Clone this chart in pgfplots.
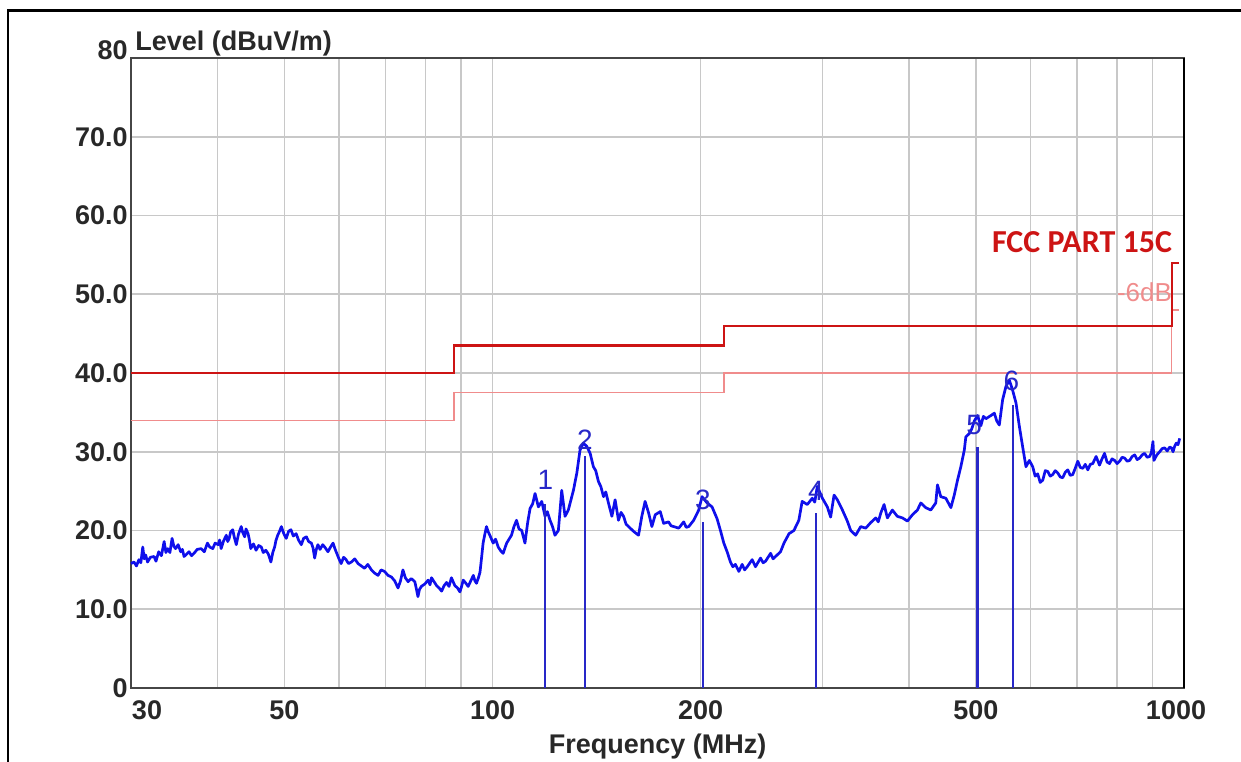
\documentclass[border=0pt]{standalone}
\usepackage{pgfplots}
\pgfplotsset{compat=1.18}
\usepackage{pgfplotstable}
\usepackage{fontspec}
\setmainfont{Liberation Sans}
\newfontfamily\calib{Carlito}
\definecolor{trace}{RGB}{15,15,235}
\definecolor{markblue}{RGB}{40,40,200}
\definecolor{limred}{RGB}{205,20,20}
\definecolor{limpink}{RGB}{240,140,140}
\definecolor{gridgray}{RGB}{200,200,200}
\definecolor{axisgray}{RGB}{70,70,70}
\definecolor{labelcol}{RGB}{40,40,40}

\pgfplotstableread{
f v
30.0 15.8
30.3 16.0
30.55 15.5
30.8 16.3
31.0 15.9
31.2 17.9
31.35 16.4
31.5 16.9
31.7 16.0
32.0 16.6
32.4 16.7
32.6 16.1
32.9 17.3
33.2 16.8
33.5 18.6
33.7 17.2
33.9 17.7
34.15 17.2
34.4 19.0
34.6 18.0
34.8 17.7
35.1 18.2
35.4 17.3
35.6 17.6
35.8 16.7
36.1 17.0
36.4 17.3
36.7 16.8
37.0 17.1
37.4 17.6
37.9 17.7
38.3 17.3
38.7 18.4
39.0 17.9
39.4 17.7
39.7 18.4
40.1 18.2
40.3 18.8
40.5 17.7
40.8 18.6
41.2 19.4
41.4 18.6
41.6 19.0
41.8 19.8
42.1 20.1
42.3 19.2
42.6 18.2
42.9 19.5
43.3 20.5
43.5 19.8
43.8 19.2
44.0 20.2
44.3 19.6
44.5 18.8
44.7 17.7
45.1 18.3
45.5 17.5
45.9 18.1
46.3 17.9
46.6 17.2
47.0 17.5
47.4 17.0
47.8 16.0
48.1 17.2
48.4 17.9
48.6 18.7
48.9 19.4
49.2 19.9
49.5 20.5
49.9 19.6
50.3 19.0
50.7 19.9
51.1 20.1
51.5 19.3
52.0 19.6
52.4 18.8
52.9 18.2
53.3 19.0
53.8 19.2
54.2 18.6
54.7 18.4
55.0 17.8
55.3 16.5
55.6 17.6
55.9 18.2
56.3 17.6
56.8 18.2
57.3 17.8
57.8 17.3
58.3 17.9
58.8 18.4
59.1 17.8
59.4 17.3
59.9 16.5
60.4 15.8
60.9 16.6
61.4 16.3
61.9 15.8
62.5 16.0
63.2 16.4
63.9 15.8
64.6 15.5
65.3 15.2
66.0 15.7
66.8 15.0
67.5 14.6
68.3 14.3
69.0 15.0
69.8 14.8
70.6 14.3
71.4 14.1
72.2 13.6
73.0 12.7
73.6 13.6
74.2 15.0
74.8 14.0
75.5 13.5
76.3 13.9
77.2 13.5
77.6 12.6
78.0 11.6
78.4 12.5
78.9 12.9
79.8 13.2
80.7 13.7
81.2 13.1
81.6 14.0
82.3 13.5
83.0 13.0
83.7 12.7
84.4 12.3
85.1 13.0
85.8 13.4
86.5 12.9
87.2 14.0
87.7 13.5
88.2 13.0
89.0 12.7
89.7 12.2
90.2 12.9
90.7 13.7
91.5 13.3
92.2 12.9
93.0 13.6
93.8 14.3
94.3 13.6
94.8 13.3
95.4 14.0
95.9 14.7
96.4 16.5
96.9 18.4
97.5 19.6
98.0 20.5
98.6 19.8
99.1 19.4
100.2 18.4
101.0 18.9
101.9 17.9
102.8 17.4
103.6 17.1
104.8 18.4
106.5 19.4
107.4 20.5
108.3 21.3
109.2 20.2
110.2 20.0
111.4 18.4
112.4 21.0
113.3 22.8
114.3 23.4
115.2 24.7
116.5 23.0
117.8 23.7
119.1 21.8
120.0 22.4
121.1 21.3
122.1 20.5
123.1 19.4
124.5 20.0
125.9 25.1
127.3 21.8
128.7 22.6
130.9 25.1
132.4 27.3
133.8 30.2
135.3 31.1
136.8 30.7
138.4 29.8
139.9 28.1
141.0 27.6
142.3 26.2
143.4 25.6
144.7 24.3
145.8 24.9
147.1 23.5
148.8 21.8
150.4 23.9
152.1 21.3
153.4 22.3
154.7 21.8
156.0 20.8
157.3 20.5
159.9 19.9
162.6 19.4
164.4 21.8
166.2 23.7
168.2 22.2
170.0 20.5
171.9 22.0
174.8 22.4
176.8 20.9
179.7 21.1
181.2 20.6
182.8 20.5
185.9 20.3
189.0 21.1
190.6 20.4
192.2 20.5
195.4 21.3
198.7 22.6
200.9 24.3
204.3 23.5
207.7 23.0
211.2 21.5
213.6 20.0
216.0 18.4
218.4 17.3
220.8 16.0
222.6 15.4
224.5 15.7
227.1 14.8
229.6 15.7
231.5 15.0
233.5 15.4
237.4 16.3
240.0 15.4
244.1 16.5
246.2 15.9
248.2 16.1
252.4 17.1
254.5 16.4
256.6 16.7
260.9 17.3
263.9 18.4
268.4 19.6
272.8 20.0
277.3 21.3
280.4 23.7
285.2 23.3
290.0 24.1
292.4 23.6
294.9 25.6
299.9 24.1
304.9 23.0
308.3 21.7
311.8 24.5
315.3 23.9
320.6 22.6
325.9 21.2
329.6 20.0
335.1 19.4
340.8 20.5
346.5 20.3
352.3 21.0
358.3 21.6
361.3 21.1
364.3 22.2
368.4 23.3
372.4 21.6
378.7 22.6
385.0 21.8
391.6 21.6
398.1 21.2
404.8 22.0
411.6 22.6
416.2 23.5
423.2 22.9
430.3 22.6
437.5 23.5
440.0 25.8
444.9 24.3
452.4 24.1
460.1 22.9
465.3 24.5
470.4 26.4
475.6 28.1
481.1 30.2
483.6 31.9
489.1 32.3
493.2 32.9
497.4 33.9
502.8 34.6
508.4 33.3
512.7 34.5
517.0 34.2
525.7 34.6
531.7 34.9
536.1 33.9
540.6 33.4
546.6 36.6
552.7 38.3
559.0 39.1
565.2 37.8
571.5 36.2
578.0 33.2
584.4 30.6
590.8 28.1
597.5 28.9
604.2 28.1
609.2 26.9
614.3 27.2
619.5 26.1
624.8 26.4
630.0 27.6
635.2 27.5
640.5 26.9
645.8 27.1
651.3 27.6
656.8 27.3
662.3 26.8
667.8 26.7
673.4 27.4
679.1 27.7
684.7 27.0
690.4 27.1
696.2 27.9
702.1 28.8
708.0 28.0
713.9 27.9
719.9 28.4
726.0 27.7
732.0 28.4
738.1 28.5
746.3 29.4
754.8 28.3
761.2 29.1
767.6 29.8
774.0 28.7
780.4 28.5
787.0 29.1
793.7 28.9
800.3 28.5
807.0 28.8
813.8 29.3
820.6 29.2
827.5 28.8
834.4 28.9
841.4 29.4
848.5 29.6
855.6 29.0
862.7 29.2
869.8 29.6
877.0 29.8
884.4 29.3
891.9 29.4
897.0 29.9
901.8 31.3
904.7 28.9
913.4 29.6
922.1 30.0
929.8 30.4
937.6 30.5
945.5 30.1
953.5 30.6
958.8 30.5
964.1 30.0
969.3 30.7
974.6 31.1
980.2 30.9
985.8 31.7
}\tracedata

\begin{document}
\begin{tikzpicture}
\useasboundingbox (-65.5pt,-36.5pt) rectangle (555pt,344pt);
\draw[line width=1.2pt] (-61.5pt,-40pt) -- (-61.5pt,338.75pt) -- (560pt,338.75pt);
\begin{axis}[
  at={(0,0)}, anchor=south west,
  width=526.5pt, height=315pt, scale only axis,
  xmode=log, log basis x=10,
  xmin=30, xmax=1000, ymin=0, ymax=80,
  xtick={30,50,100,200,500,1000},
  xticklabels={\hspace*{16pt}30,50,100,200,500,1000\hspace*{8pt}},
  minor xtick={40,60,70,80,90,300,400,600,700,800,900},
  ytick={0,10,20,30,40,50,60,70,80},
  yticklabels={0,10.0,20.0,30.0,40.0,50.0,60.0,70.0,\raisebox{8pt}{80}},
  grid=both,
  major grid style={draw=gridgray, line width=0.8pt},
  minor grid style={draw=gridgray, line width=0.8pt},
  major tick length=0pt, minor tick length=0pt,
  axis line style={draw=axisgray, line width=1.2pt},
  tick label style={font=\fontsize{13.5}{15}\selectfont\bfseries, text=labelcol},
  xticklabel style={anchor=north, inner sep=0pt, yshift=-6pt},
  yticklabel style={anchor=east, inner sep=0pt, xshift=-1.5pt},
  /pgf/number format/assume math mode=true,
  clip=false,
]
\addplot[limpink, line width=0.7pt] coordinates {(30,34) (88,34) (88,37.5) (216,37.5) (216,40) (960,40) (960,48) (985,48)};
\addplot[limred, line width=1.2pt] coordinates {(30,40) (88,40) (88,43.5) (216,43.5) (216,46) (960,46) (960,54) (985,54)};
\addplot[trace, line width=1.35pt, line join=round] table[x=f, y=v] {\tracedata};
\addplot[ycomb, markblue, line width=1.1pt] coordinates {(119.2,23.4) (136.0,29.4) (201.5,21.1) (293.5,22.2) (502.8,30.6) (565.2,35.9)};
\node[font=\fontsize{14}{16}\selectfont, text=markblue] at (axis cs:119.2,26.4) {1};
\node[font=\fontsize{14}{16}\selectfont, text=markblue] at (axis cs:136.0,31.5) {2};
\node[font=\fontsize{14}{16}\selectfont, text=markblue] at (axis cs:201.5,23.9) {3};
\node[font=\fontsize{14}{16}\selectfont, text=markblue] at (axis cs:293.5,25.0) {4};
\node[font=\fontsize{14}{16}\selectfont, text=markblue] at (axis cs:497.0,33.4) {5};
\node[font=\fontsize{14}{16}\selectfont, text=markblue] at (axis cs:563.0,39.0) {6};
\node[anchor=east, inner sep=0pt, font=\calib\fontsize{16}{18}\selectfont\bfseries, text=limred] at (axis cs:962,56.6) {FCC PART 15C};
\node[anchor=east, inner sep=0pt, font=\fontsize{13}{15}\selectfont, text=limpink] at (axis cs:962,50.2) {-6dB};
\node[anchor=base west, inner sep=0pt, font=\fontsize{13.5}{15}\selectfont\bfseries, text=labelcol] at ([xshift=2pt,yshift=4pt]rel axis cs:0,1) {Level (dBuV/m)};
\node[anchor=base, inner sep=0pt, font=\fontsize{13.5}{15}\selectfont\bfseries, text=labelcol] at ([yshift=-32.5pt]rel axis cs:0.5,0) {Frequency (MHz)};
\draw[black, line width=1.3pt] (rel axis cs:1,0) -- (rel axis cs:1,1);
\end{axis}
\end{tikzpicture}
\end{document}
